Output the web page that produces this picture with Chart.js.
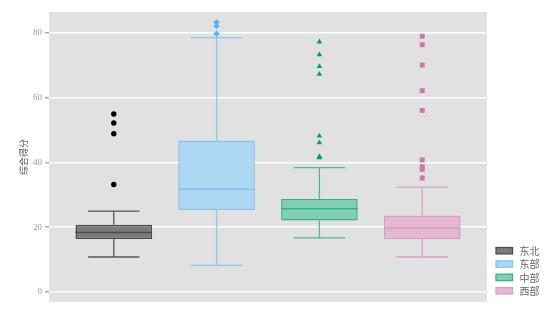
<!DOCTYPE html>
<html>
<head>
<meta charset="utf-8">
<script src="https://cdn.jsdelivr.net/npm/chart.js@4"></script>
<style>
  html,body{margin:0;padding:0;background:#fff}
  #wrap{width:557px;height:318px}
</style>
</head>
<body>
<div id="wrap"><canvas id="ch"></canvas></div>
<script>
const regions = ['东北', '东部', '中部', '西部']
const q1 = [16.4, 25.3, 22.1, 16.3]
const median = [18.4, 31.7, 25.7, 19.7]
const q3 = [20.8, 46.8, 28.7, 23.6]
const whiskerLow = [10.8, 8.2, 16.7, 10.8]
const whiskerHigh = [25.0, 78.6, 38.4, 32.4]
const outliers = [
  [33.2, 48.9, 52.2, 55.0],
  [79.8, 82.2, 83.3],
  [41.5, 41.9, 46.1, 48.2, 67.3, 69.7, 73.3, 77.3],
  [35.2, 37.9, 38.7, 40.8, 56.1, 62.2, 70.1, 76.4, 79.0]
]
const yTicks = [0, 20, 40, 60, 80]

const fills = ['#7b7b7b', '#acd8f1', '#80ceb4', '#e4b8d2']
const borders = ['#4a4a4a', '#80c4ec', '#3daf88', '#da9cc2']
const whiskerCol = ['#555555', '#8ec8e8', '#52b794', '#d9a0c2']
const pointCol = ['#000000', '#56B4E9', '#009E73', '#CC79A7']
const pointStyles = ['circle', 'rectRot', 'triangle', 'rect']
const pointSize = [2.7, 3.2, 3.2, 3.5]
const BOX_W = 0.745, CAP_W = 0.5

const datasets = []
// boxes: floating bars from q1 to q3
datasets.push({
  type: 'bar', order: 3,
  data: regions.map((r, i) => ({ x: i + 1, y: [q1[i], q3[i]] })),
  backgroundColor: fills, borderColor: borders, borderWidth: 1.5, borderSkipped: false,
  categoryPercentage: 1, barPercentage: BOX_W
})
regions.forEach((r, i) => {
  const x = i + 1, c = CAP_W / 2, b = BOX_W / 2
  const gap = { x: x, y: null }
  // whiskers + caps
  datasets.push({
    type: 'line', order: 2,
    data: [
      { x: x - c, y: whiskerLow[i] }, { x: x + c, y: whiskerLow[i] }, gap,
      { x: x, y: whiskerLow[i] }, { x: x, y: q1[i] }, gap,
      { x: x, y: q3[i] }, { x: x, y: whiskerHigh[i] }, gap,
      { x: x - c, y: whiskerHigh[i] }, { x: x + c, y: whiskerHigh[i] }
    ],
    borderColor: whiskerCol[i], borderWidth: 1.3, pointRadius: 0, spanGaps: false, fill: false
  })
  // median
  datasets.push({
    type: 'line', order: 2,
    data: [{ x: x - b, y: median[i] }, { x: x + b, y: median[i] }],
    borderColor: borders[i], borderWidth: 1.5, pointRadius: 0, fill: false
  })
  // outliers
  datasets.push({
    type: 'scatter', order: 1,
    data: outliers[i].map(v => ({ x: x, y: v })),
    pointStyle: pointStyles[i], pointRadius: pointSize[i],
    backgroundColor: pointCol[i], borderColor: pointCol[i], borderWidth: 0
  })
})

const panel = {
  id: 'panel',
  beforeDraw(chart){
    const { ctx, chartArea: a } = chart
    ctx.save(); ctx.fillStyle = '#e1e1e1'; ctx.fillRect(a.left, a.top, a.right - a.left, a.bottom - a.top); ctx.restore()
  },
  afterDraw(chart){
    const { ctx, chartArea: a } = chart
    ctx.save()
    ctx.font = '10px "Noto Sans CJK SC", sans-serif'
    ctx.textBaseline = 'middle'
    const x0 = a.right + 9, y0 = 250.7, step = 13.35
    regions.forEach((r, i) => {
      const y = y0 + i * step
      ctx.fillStyle = fills[i]; ctx.fillRect(x0, y - 3.2, 16.5, 6.4)
      ctx.strokeStyle = borders[i]; ctx.lineWidth = 1.3; ctx.strokeRect(x0, y - 3.2, 16.5, 6.4)
      ctx.fillStyle = '#666'; ctx.fillText(r, x0 + 23.5, y + 0.5)
    })
    ctx.restore()
  }
}

new Chart(document.getElementById('ch'), {
  data: { datasets },
  options: {
    responsive: true, maintainAspectRatio: false, animation: false,
    layout: { padding: { left: 0, right: 70, top: 12, bottom: 16 } },
    plugins: { legend: { display: false }, tooltip: { enabled: false } },
    scales: {
      x: {
        type: 'linear', min: 0.37, max: 4.63, display: false, offset: false, bounds: 'data',
        grid: { offset: false },
        afterBuildTicks(s){ s.ticks = regions.map((r, i) => ({ value: i + 1 })) }
      },
      y: {
        type: 'linear', min: -3.1, max: 86.5,
        afterFit(s){ s.width = 49 },
        afterBuildTicks(s){ s.ticks = yTicks.map(v => ({ value: v })) },
        ticks: { includeBounds: false, padding: 3, color: '#999', font: { family: '"Liberation Serif", serif', size: 9 } },
        grid: { color: '#ffffff', lineWidth: 1.5, tickColor: '#aaa', tickLength: 4, drawTicks: true },
        border: { display: false },
        title: { display: true, text: '综合得分', color: '#5a505a', padding: { top: 18, bottom: 0 }, font: { family: '"Noto Sans CJK SC", sans-serif', size: 9 } }
      }
    }
  },
  plugins: [panel]
})
</script>
</body>
</html>
